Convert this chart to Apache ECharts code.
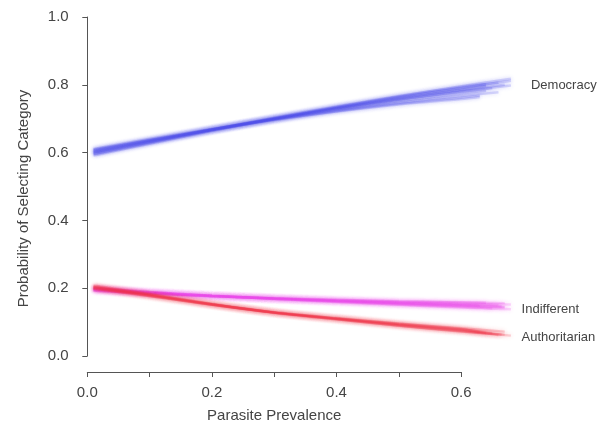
<!DOCTYPE html>
<html>
<head>
<meta charset="utf-8">
<script src="https://cdn.jsdelivr.net/npm/echarts@6/dist/echarts.min.js"></script>
<style>
  html, body { margin: 0; padding: 0; background: #fff; }
  #chart { width: 616px; height: 423px; }
</style>
</head>
<body>
<div id="chart"></div>
<script>
// Predicted probability of each regime preference across parasite prevalence,
// one thin translucent line per posterior draw.
const xGrid = [0.01, 0.1, 0.2, 0.3, 0.4, 0.5, 0.6];

// Each draw: values at xGrid, then the value at that draw's final x (in *End arrays)
const democracyDraws = [
  [0.603, 0.634, 0.668, 0.700, 0.730, 0.757, 0.781, 0.798],
  [0.595, 0.628, 0.665, 0.699, 0.732, 0.763, 0.791, 0.812],
  [0.600, 0.632, 0.667, 0.700, 0.731, 0.760, 0.786, 0.797],
  [0.607, 0.637, 0.669, 0.699, 0.727, 0.752, 0.774, 0.782],
  [0.611, 0.640, 0.670, 0.698, 0.724, 0.747, 0.767, 0.778],
  [0.591, 0.626, 0.664, 0.700, 0.734, 0.766, 0.796, 0.818],
  [0.609, 0.637, 0.668, 0.697, 0.722, 0.744, 0.762, 0.768],
  [0.601, 0.633, 0.668, 0.702, 0.734, 0.764, 0.790, 0.801],
  [0.604, 0.635, 0.668, 0.701, 0.731, 0.759, 0.784, 0.800],
  [0.598, 0.631, 0.666, 0.698, 0.728, 0.756, 0.780, 0.790],
  [0.596, 0.630, 0.667, 0.703, 0.736, 0.767, 0.794, 0.806],
  [0.606, 0.636, 0.667, 0.696, 0.721, 0.742, 0.758, 0.764]
];
const democracyEnd = [0.68, 0.68, 0.64, 0.64, 0.66, 0.68, 0.63, 0.64, 0.67, 0.65, 0.66, 0.63];

const indifferentDraws = [
  [0.196, 0.186, 0.177, 0.170, 0.163, 0.157, 0.151, 0.146],
  [0.193, 0.184, 0.176, 0.170, 0.165, 0.161, 0.158, 0.156],
  [0.199, 0.188, 0.178, 0.169, 0.161, 0.154, 0.147, 0.143],
  [0.194, 0.185, 0.177, 0.171, 0.166, 0.162, 0.159, 0.157],
  [0.201, 0.189, 0.178, 0.168, 0.159, 0.151, 0.143, 0.138],
  [0.197, 0.187, 0.177, 0.169, 0.162, 0.156, 0.150, 0.148],
  [0.192, 0.184, 0.176, 0.170, 0.164, 0.159, 0.155, 0.152],
  [0.200, 0.189, 0.178, 0.169, 0.160, 0.152, 0.145, 0.140],
  [0.195, 0.186, 0.177, 0.170, 0.164, 0.158, 0.153, 0.150],
  [0.198, 0.187, 0.177, 0.169, 0.162, 0.155, 0.149, 0.145]
];
const indifferentEnd = [0.665, 0.67, 0.67, 0.64, 0.68, 0.63, 0.68, 0.65, 0.66, 0.67];

const authoritarianDraws = [
  [0.203, 0.180, 0.152, 0.128, 0.110, 0.092, 0.076, 0.063],
  [0.199, 0.177, 0.151, 0.129, 0.112, 0.096, 0.082, 0.072],
  [0.208, 0.183, 0.154, 0.128, 0.108, 0.089, 0.072, 0.060],
  [0.201, 0.178, 0.151, 0.128, 0.111, 0.094, 0.079, 0.070],
  [0.206, 0.182, 0.153, 0.128, 0.109, 0.090, 0.074, 0.062],
  [0.198, 0.177, 0.152, 0.129, 0.111, 0.095, 0.080, 0.068],
  [0.204, 0.181, 0.153, 0.127, 0.108, 0.090, 0.073, 0.063],
  [0.202, 0.179, 0.152, 0.128, 0.110, 0.093, 0.078, 0.067]
];
const authoritarianEnd = [0.665, 0.67, 0.68, 0.63, 0.66, 0.64, 0.67, 0.65];

const xTicks = [0, 0.1, 0.2, 0.3, 0.4, 0.5, 0.6];
const yTicks = [0, 0.2, 0.4, 0.6, 0.8, 1.0];

const groups = [
  { name: 'Democracy', draws: democracyDraws, ends: democracyEnd, color: 'rgb(78, 78, 236)', labelShift: 0 },
  { name: 'Indifferent', draws: indifferentDraws, ends: indifferentEnd, color: 'rgb(236, 70, 236)', labelShift: 3 },
  { name: 'Authoritarian', draws: authoritarianDraws, ends: authoritarianEnd, color: 'rgb(238, 52, 72)', labelShift: 3 }
];

const textColor = '#444';
const axisColor = '#555';
const fontFamily = '"Liberation Sans", Arial, sans-serif';

// Layout in pixels; both grids share one horizontal scale
const pxPerUnit = 623;       // pixels per unit of prevalence
const xZeroPx = 87.3;        // where prevalence 0 sits
const yAxisPx = 81.7;        // the y axis stands a little left of x = 0
const plotTop = 17;          // y = 1.0
const plotBottomGap = 67;    // y = 0.0 sits 67px above the bottom
const xAxisBottomGap = 51;   // the x axis hangs below y = 0
const dataMinX = -(xZeroPx - yAxisPx) / pxPerUnit;
const dataMaxX = 0.8;

const series = [];
groups.forEach(function (g) {
  g.draws.forEach(function (vals, i) {
    const pts = xGrid.map(function (x, k) { return [x, vals[k]]; });
    pts.push([g.ends[i], vals[xGrid.length]]);
    const s = {
      type: 'line',
      name: g.name,
      xAxisIndex: 0,
      yAxisIndex: 0,
      data: pts,
      smooth: 0.3,
      symbol: 'none',
      silent: true,
      z: 2,
      lineStyle: {
        color: g.color,
        width: 2.4,
        opacity: 0.2,
        shadowBlur: 4,
        shadowColor: g.color
      }
    };
    if (i === 0) {
      s.endLabel = {
        show: true,
        formatter: g.name,
        distance: 20,
        offset: [0, g.labelShift],
        color: textColor,
        fontSize: 13,
        fontFamily: fontFamily
      };
    }
    series.push(s);
  });
});

const chart = echarts.init(document.getElementById('chart'), null, { renderer: 'canvas' });
chart.setOption({
  animation: false,
  backgroundColor: '#fff',
  grid: [
    // data area with the y axis on its left edge
    {
      left: yAxisPx, width: (dataMaxX - dataMinX) * pxPerUnit, top: plotTop, bottom: plotBottomGap,
      containLabel: false, outerBoundsMode: 'none'
    },
    // axis-only grid: its bottom edge carries the x axis from 0 to 0.6
    {
      left: xZeroPx, width: 0.6 * pxPerUnit, top: plotTop, bottom: xAxisBottomGap,
      containLabel: false, outerBoundsMode: 'none'
    }
  ],
  xAxis: [
    {
      gridIndex: 0, type: 'value', min: dataMinX, max: dataMaxX, show: false
    },
    {
      gridIndex: 1,
      type: 'value',
      min: xTicks[0],
      max: xTicks[xTicks.length - 1],
      interval: 0.1,
      name: 'Parasite Prevalence',
      nameLocation: 'middle',
      nameGap: 36,
      nameTextStyle: { color: textColor, fontSize: 15, fontFamily: fontFamily },
      axisLine: { show: true, lineStyle: { color: axisColor, width: 1 } },
      axisTick: { show: true, length: 5, lineStyle: { color: axisColor } },
      axisLabel: {
        color: textColor, fontSize: 15, fontFamily: fontFamily, margin: 13,
        formatter: function (v) {
          const r = Math.round(v * 10);
          return r % 2 === 0 ? (r / 10).toFixed(1) : '';
        }
      },
      splitLine: { show: false }
    }
  ],
  yAxis: [
    {
      gridIndex: 0,
      type: 'value',
      min: yTicks[0],
      max: yTicks[yTicks.length - 1],
      interval: 0.2,
      name: 'Probability of Selecting Category',
      nameLocation: 'middle',
      nameGap: 50,
      nameTextStyle: { color: textColor, fontSize: 15, fontFamily: fontFamily, padding: [0, 24, 0, 0] },
      axisLine: { show: true, lineStyle: { color: axisColor, width: 1 } },
      axisTick: { show: true, length: 5, lineStyle: { color: axisColor } },
      axisLabel: {
        color: textColor, fontSize: 15, fontFamily: fontFamily, margin: 13,
        formatter: function (v) { return v.toFixed(1); }
      },
      splitLine: { show: false }
    },
    {
      gridIndex: 1, type: 'value', min: 0, max: 1, show: false
    }
  ],
  series: series
});
</script>
</body>
</html>
